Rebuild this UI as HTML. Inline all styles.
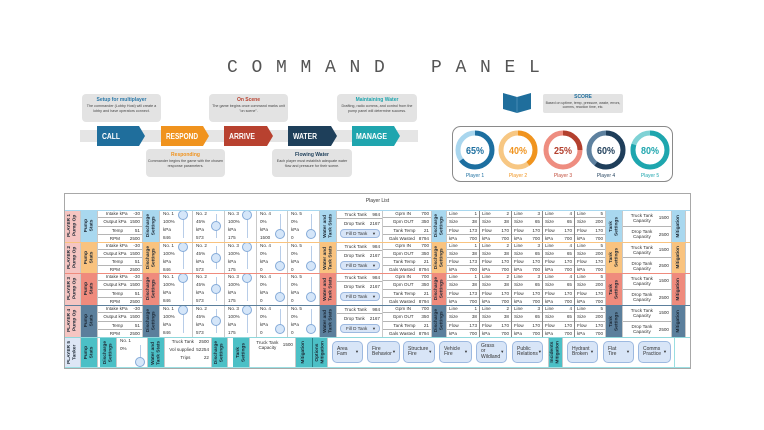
<!DOCTYPE html>
<html><head><meta charset="utf-8"><style>
*{margin:0;padding:0;box-sizing:border-box}
body{width:764px;height:430px;background:#fff;position:relative;overflow:hidden;font-family:"Liberation Sans",sans-serif;color:#333}
.a{position:absolute}
.co{position:absolute;background:#e3e3e3;border-radius:4px;text-align:center;font-size:3.7px;line-height:4.8px;color:#444;padding:3px 1px 0 1px}
.co b{display:block;font-size:5px;line-height:6px;margin-bottom:1px}
.row{position:absolute;left:0;width:764px}
.c{position:absolute;top:0;height:100%;border-right:1px solid #c9c9c9}
.vt{display:flex;align-items:center;justify-content:center}
.vt span{writing-mode:vertical-rl;transform:rotate(180deg);font-size:4.8px;font-weight:bold;line-height:5.5px;text-align:center;color:#1c2733;white-space:nowrap}
.t{display:flex;flex-direction:column}
.t>div{flex:1;display:flex;align-items:center;border-bottom:1px solid #b5b5b5;padding:0 2px;font-size:4.6px;line-height:5px;color:#333;white-space:nowrap}
.t>div:last-child{border-bottom:none}
.t b{flex:1;text-align:center;font-weight:normal}
.t i{font-style:normal;text-align:right}
.L b{text-align:left}
.no{font-size:4.6px;line-height:8px;padding-left:3px;color:#333}
.ln{position:absolute;width:1px;background:#b8cde8;top:4px;bottom:4px}
.kn{position:absolute;width:10px;height:10px;border-radius:50%;background:#d5e6f9;border:1px solid #84aad8}
.pill{position:absolute;background:#d8e5f7;border:1px solid #9db9e0;border-radius:4px;font-size:4.6px;line-height:5px;color:#333;display:flex;align-items:center;padding-left:5px;white-space:nowrap}
.pill .ar{margin-left:auto;padding-right:3px;font-size:4px}
.p5{border-radius:5px;font-size:5px;line-height:5.5px;padding-left:4px}
</style></head><body>

<svg class="a" style="left:0;top:0" width="764" height="430" viewBox="0 0 764 430">
<text x="227" y="72" font-family="Liberation Mono, monospace" font-size="18" letter-spacing="13.7" word-spacing="8" fill="#555">COMMAND PANEL</text>
<rect x="80" y="130" width="338" height="12" fill="#e5e5e5"/>
<polygon points="97,126 139,126 145,136 139,146 97,146" fill="#1f6e9c"/>
<polygon points="161,126 203,126 209,136 203,146 161,146" fill="#f0931e"/>
<polygon points="224,126 267,126 273,136 267,146 224,146" fill="#b8412f"/>
<polygon points="288,126 331,126 337,136 331,146 288,146" fill="#1e3f5a"/>
<polygon points="352,126 394,126 400,136 394,146 352,146" fill="#1fa5ae"/>
<g font-family="Liberation Sans, sans-serif" font-weight="bold" font-size="8" fill="#fff">
<text x="102" y="139" textLength="18" lengthAdjust="spacingAndGlyphs">CALL</text>
<text x="166" y="139" textLength="32" lengthAdjust="spacingAndGlyphs">RESPOND</text>
<text x="229" y="139" textLength="26" lengthAdjust="spacingAndGlyphs">ARRIVE</text>
<text x="293" y="139" textLength="24" lengthAdjust="spacingAndGlyphs">WATER</text>
<text x="356" y="139" textLength="31" lengthAdjust="spacingAndGlyphs">MANAGE</text>
</g>
<polygon points="503,93 517,97 531,93 531,109 517,113 503,109" fill="#1f6e9c"/>
<line x1="517" y1="97" x2="517" y2="113" stroke="#5f9cc4" stroke-width="0.6"/>
<rect x="452.5" y="126.5" width="220" height="55" rx="8" fill="#fff" stroke="#8a8a8a" stroke-width="1"/>
<g fill="none" stroke-width="5">
<circle cx="475" cy="150" r="17" stroke="#a9d6ee"/>
<circle cx="475" cy="150" r="17" stroke="#1d6fa0" stroke-dasharray="69.4 106.8" transform="rotate(-90 475 150)"/>
<circle cx="518" cy="150" r="17" stroke="#f7c783"/>
<circle cx="518" cy="150" r="17" stroke="#f0941f" stroke-dasharray="42.7 106.8" transform="rotate(-90 518 150)"/>
<circle cx="563" cy="150" r="17" stroke="#ee8d80"/>
<circle cx="563" cy="150" r="17" stroke="#b3402e" stroke-dasharray="26.7 106.8" transform="rotate(-90 563 150)"/>
<circle cx="606" cy="150" r="17" stroke="#5e819f"/>
<circle cx="606" cy="150" r="17" stroke="#1f3e5a" stroke-dasharray="64.1 106.8" transform="rotate(-90 606 150)"/>
<circle cx="650" cy="150" r="17" stroke="#7fd2d5"/>
<circle cx="650" cy="150" r="17" stroke="#1ea6ae" stroke-dasharray="85.5 106.8" transform="rotate(-90 650 150)"/>
</g>
<g font-family="Liberation Sans, sans-serif" font-weight="bold" font-size="10.5" text-anchor="middle">
<text x="475" y="154" fill="#1d6fa0" textLength="18" lengthAdjust="spacingAndGlyphs">65%</text>
<text x="518" y="154" fill="#f0941f" textLength="18" lengthAdjust="spacingAndGlyphs">40%</text>
<text x="563" y="154" fill="#b3402e" textLength="18" lengthAdjust="spacingAndGlyphs">25%</text>
<text x="606" y="154" fill="#1f3e5a" textLength="18" lengthAdjust="spacingAndGlyphs">60%</text>
<text x="650" y="154" fill="#1ea6ae" textLength="18" lengthAdjust="spacingAndGlyphs">80%</text>
</g>
<g font-family="Liberation Sans, sans-serif" font-size="5" text-anchor="middle">
<text x="475" y="177" fill="#1d6fa0">Player 1</text>
<text x="518" y="177" fill="#f0941f">Player 2</text>
<text x="563" y="177" fill="#c24d3b">Player 3</text>
<text x="606" y="177" fill="#1f3e5a">Player 4</text>
<text x="650" y="177" fill="#1ea6ae">Player 5</text>
</g>
</svg>

<div class="co" style="left:82px;top:94px;width:79px;height:28px"><b style="color:#2a78a8">Setup for multiplayer</b>The commander (Lobby Host) will create a lobby and have operators connect.</div>
<div class="co" style="left:209px;top:94px;width:79px;height:28px"><b style="color:#b8412f">On Scene</b>The game begins once command marks unit "on scene".</div>
<div class="co" style="left:337px;top:94px;width:80px;height:28px"><b style="color:#1fa5ae">Maintaining Water</b>Drafting, radio comms, and control from the pump panel will determine success.</div>
<div class="co" style="left:146px;top:149px;width:79px;height:28px"><b style="color:#f0931e">Responding</b>Commander begins the game with the chosen response parameters.</div>
<div class="co" style="left:272px;top:149px;width:80px;height:28px"><b style="color:#1e3f5a">Flowing Water</b>Each player must establish adequate water flow and pressure for their scene.</div>
<div class="co" style="left:543px;top:94px;width:80px;height:19px;border-radius:2px;padding-top:1px;font-size:3.5px;line-height:4.3px"><b style="color:#1f6e9c;line-height:5.5px;margin-bottom:0">SCORE</b>Based on uptime, temp, pressure, waste, errors, comms, reaction time, etc.</div>

<!-- table -->
<div class="a" style="left:64px;top:193px;width:627px;height:176px;border:1px solid #a8a8a8"></div>
<div class="a" style="left:65px;top:198px;width:625px;text-align:center;font-size:5px;color:#333">Player List</div>

<!-- P1 -->
<div class="row" style="top:210px;height:32px">
<div class="c vt" style="left:65px;width:16px;background:#f5c5c2"><span>PLAYER 1<br>Pump Op</span></div>
<div class="c vt" style="left:81px;width:17px;background:#a9d8ef"><span>Pump<br>Stats</span></div>
<div class="c t" style="left:98px;width:45px"><div><b>Intake kPa</b><i>-30</i></div><div><b>Output kPa</b><i>1500</i></div><div><b>Temp</b><i>51</i></div><div><b>RPM</b><i>2500</i></div></div>
<div class="c vt" style="left:143px;width:17px;background:#a9d8ef"><span>Discharge<br>Settings</span></div>
<div class="c no" style="left:160px;width:33px">No. 1<br>100%<br>kPa<br>846<div class="ln" style="left:23px"></div><div class="kn" style="left:18px;top:0"></div></div>
<div class="c no" style="left:193px;width:32px">No. 2<br>45%<br>kPa<br>573<div class="ln" style="left:23px"></div><div class="kn" style="left:18px;top:11px"></div></div>
<div class="c no" style="left:225px;width:32px">No. 3<br>100%<br>kPa<br>175<div class="ln" style="left:22px"></div><div class="kn" style="left:17px;top:0"></div></div>
<div class="c no" style="left:257px;width:31px">No. 4<br>0%<br>kPa<br>1500<div class="ln" style="left:23px"></div><div class="kn" style="left:18px;top:19px"></div></div>
<div class="c no" style="left:288px;width:32px">No. 5<br>0%<br>kPa<br>0<div class="ln" style="left:23px"></div><div class="kn" style="left:18px;top:19px"></div></div>
<div class="c vt" style="left:320px;width:17px;background:#a9d8ef"><span>Water and<br>Tank Stats</span></div>
<div class="c" style="left:337px;width:46px"><div class="t" style="position:absolute;left:0;top:0;width:100%;height:17px"><div style="border-bottom:1px solid #b5b5b5"><b>Truck Tank</b><i>984</i></div><div><b>Drop Tank</b><i>2167</i></div></div><div class="pill" style="left:3px;top:19px;width:40px;height:9px">Fill D Tank<span class="ar">▼</span></div></div>
<div class="c t" style="left:383px;width:49px"><div><b>Gpm IN</b><i>700</i></div><div><b>Gpm OUT</b><i>350</i></div><div><b>Tank Temp</b><i>21</i></div><div><b>Gals Wasted</b><i>8794</i></div></div>
<div class="c vt" style="left:432px;width:15px;background:#a9d8ef"><span>Discharge<br>Settings</span></div>
<div class="c t L" style="left:447px;width:33px;border-right-color:#888"><div><b>Line</b><i>1</i></div><div><b>Size</b><i>38</i></div><div><b>Flow</b><i>173</i></div><div><b>kPa</b><i>700</i></div></div>
<div class="c t L" style="left:480px;width:32px;border-right-color:#888"><div><b>Line</b><i>2</i></div><div><b>Size</b><i>38</i></div><div><b>Flow</b><i>170</i></div><div><b>kPa</b><i>700</i></div></div>
<div class="c t L" style="left:512px;width:31px;border-right-color:#888"><div><b>Line</b><i>3</i></div><div><b>Size</b><i>65</i></div><div><b>Flow</b><i>170</i></div><div><b>kPa</b><i>700</i></div></div>
<div class="c t L" style="left:543px;width:32px;border-right-color:#888"><div><b>Line</b><i>4</i></div><div><b>Size</b><i>65</i></div><div><b>Flow</b><i>170</i></div><div><b>kPa</b><i>700</i></div></div>
<div class="c t L" style="left:575px;width:31px"><div><b>Line</b><i>5</i></div><div><b>Size</b><i>200</i></div><div><b>Flow</b><i>170</i></div><div><b>kPa</b><i>700</i></div></div>
<div class="c vt" style="left:606px;width:17px;background:#a9d8ef"><span>Tank<br>Settings</span></div>
<div class="c t" style="left:623px;width:49px"><div><b>Truck Tank<br>Capacity</b><i>1500</i></div><div><b>Drop Tank<br>Capacity</b><i>2500</i></div></div>
<div class="c vt" style="left:672px;width:14px;background:#a9d8ef"><span>Mitigation</span></div>
</div>

<!-- P2 -->
<div class="row" style="top:242px;height:31px">
<div class="c vt" style="left:65px;width:16px;background:#f5c5c2"><span>PLAYER 2<br>Pump Op</span></div>
<div class="c vt" style="left:81px;width:17px;background:#f9c37f"><span>Pump<br>Stats</span></div>
<div class="c t" style="left:98px;width:45px"><div><b>Intake kPa</b><i>-30</i></div><div><b>Output kPa</b><i>1500</i></div><div><b>Temp</b><i>51</i></div><div><b>RPM</b><i>2500</i></div></div>
<div class="c vt" style="left:143px;width:17px;background:#f9c37f"><span>Discharge<br>Settings</span></div>
<div class="c no" style="left:160px;width:33px">No. 1<br>100%<br>kPa<br>846<div class="ln" style="left:23px"></div><div class="kn" style="left:18px;top:0"></div></div>
<div class="c no" style="left:193px;width:32px">No. 2<br>45%<br>kPa<br>573<div class="ln" style="left:23px"></div><div class="kn" style="left:18px;top:11px"></div></div>
<div class="c no" style="left:225px;width:32px">No. 3<br>100%<br>kPa<br>175<div class="ln" style="left:22px"></div><div class="kn" style="left:17px;top:0"></div></div>
<div class="c no" style="left:257px;width:31px">No. 4<br>0%<br>kPa<br>0<div class="ln" style="left:23px"></div><div class="kn" style="left:18px;top:19px"></div></div>
<div class="c no" style="left:288px;width:32px">No. 5<br>0%<br>kPa<br>0<div class="ln" style="left:23px"></div><div class="kn" style="left:18px;top:19px"></div></div>
<div class="c vt" style="left:320px;width:17px;background:#f9c37f"><span>Water and<br>Tank Stats</span></div>
<div class="c" style="left:337px;width:46px"><div class="t" style="position:absolute;left:0;top:0;width:100%;height:17px"><div style="border-bottom:1px solid #b5b5b5"><b>Truck Tank</b><i>984</i></div><div><b>Drop Tank</b><i>2167</i></div></div><div class="pill" style="left:3px;top:19px;width:40px;height:9px">Fill D Tank<span class="ar">▼</span></div></div>
<div class="c t" style="left:383px;width:49px"><div><b>Gpm IN</b><i>700</i></div><div><b>Gpm OUT</b><i>350</i></div><div><b>Tank Temp</b><i>21</i></div><div><b>Gals Wasted</b><i>8794</i></div></div>
<div class="c vt" style="left:432px;width:15px;background:#f9c37f"><span>Discharge<br>Settings</span></div>
<div class="c t L" style="left:447px;width:33px;border-right-color:#888"><div><b>Line</b><i>1</i></div><div><b>Size</b><i>38</i></div><div><b>Flow</b><i>173</i></div><div><b>kPa</b><i>700</i></div></div>
<div class="c t L" style="left:480px;width:32px;border-right-color:#888"><div><b>Line</b><i>2</i></div><div><b>Size</b><i>38</i></div><div><b>Flow</b><i>170</i></div><div><b>kPa</b><i>700</i></div></div>
<div class="c t L" style="left:512px;width:31px;border-right-color:#888"><div><b>Line</b><i>3</i></div><div><b>Size</b><i>65</i></div><div><b>Flow</b><i>170</i></div><div><b>kPa</b><i>700</i></div></div>
<div class="c t L" style="left:543px;width:32px;border-right-color:#888"><div><b>Line</b><i>4</i></div><div><b>Size</b><i>65</i></div><div><b>Flow</b><i>170</i></div><div><b>kPa</b><i>700</i></div></div>
<div class="c t L" style="left:575px;width:31px"><div><b>Line</b><i>5</i></div><div><b>Size</b><i>200</i></div><div><b>Flow</b><i>170</i></div><div><b>kPa</b><i>700</i></div></div>
<div class="c vt" style="left:606px;width:17px;background:#f9c37f"><span>Tank<br>Settings</span></div>
<div class="c t" style="left:623px;width:49px"><div><b>Truck Tank<br>Capacity</b><i>1500</i></div><div><b>Drop Tank<br>Capacity</b><i>2500</i></div></div>
<div class="c vt" style="left:672px;width:14px;background:#f9c37f"><span>Mitigation</span></div>
</div>

<!-- P3 -->
<div class="row" style="top:273px;height:32px">
<div class="c vt" style="left:65px;width:16px;background:#f5c5c2"><span>PLAYER 3<br>Pump Op</span></div>
<div class="c vt" style="left:81px;width:17px;background:#ef8b7d"><span>Pump<br>Stats</span></div>
<div class="c t" style="left:98px;width:45px"><div><b>Intake kPa</b><i>-30</i></div><div><b>Output kPa</b><i>1500</i></div><div><b>Temp</b><i>51</i></div><div><b>RPM</b><i>2500</i></div></div>
<div class="c vt" style="left:143px;width:17px;background:#ef8b7d"><span>Discharge<br>Settings</span></div>
<div class="c no" style="left:160px;width:33px">No. 1<br>100%<br>kPa<br>846<div class="ln" style="left:23px"></div><div class="kn" style="left:18px;top:0"></div></div>
<div class="c no" style="left:193px;width:32px">No. 2<br>45%<br>kPa<br>573<div class="ln" style="left:23px"></div><div class="kn" style="left:18px;top:11px"></div></div>
<div class="c no" style="left:225px;width:32px">No. 3<br>100%<br>kPa<br>175<div class="ln" style="left:22px"></div><div class="kn" style="left:17px;top:0"></div></div>
<div class="c no" style="left:257px;width:31px">No. 4<br>0%<br>kPa<br>0<div class="ln" style="left:23px"></div><div class="kn" style="left:18px;top:19px"></div></div>
<div class="c no" style="left:288px;width:32px">No. 5<br>0%<br>kPa<br>0<div class="ln" style="left:23px"></div><div class="kn" style="left:18px;top:19px"></div></div>
<div class="c vt" style="left:320px;width:17px;background:#ef8b7d"><span>Water and<br>Tank Stats</span></div>
<div class="c" style="left:337px;width:46px"><div class="t" style="position:absolute;left:0;top:0;width:100%;height:17px"><div style="border-bottom:1px solid #b5b5b5"><b>Truck Tank</b><i>984</i></div><div><b>Drop Tank</b><i>2167</i></div></div><div class="pill" style="left:3px;top:19px;width:40px;height:9px">Fill D Tank<span class="ar">▼</span></div></div>
<div class="c t" style="left:383px;width:49px"><div><b>Gpm IN</b><i>700</i></div><div><b>Gpm OUT</b><i>350</i></div><div><b>Tank Temp</b><i>21</i></div><div><b>Gals Wasted</b><i>8794</i></div></div>
<div class="c vt" style="left:432px;width:15px;background:#ef8b7d"><span>Discharge<br>Settings</span></div>
<div class="c t L" style="left:447px;width:33px;border-right-color:#888"><div><b>Line</b><i>1</i></div><div><b>Size</b><i>38</i></div><div><b>Flow</b><i>173</i></div><div><b>kPa</b><i>700</i></div></div>
<div class="c t L" style="left:480px;width:32px;border-right-color:#888"><div><b>Line</b><i>2</i></div><div><b>Size</b><i>38</i></div><div><b>Flow</b><i>170</i></div><div><b>kPa</b><i>700</i></div></div>
<div class="c t L" style="left:512px;width:31px;border-right-color:#888"><div><b>Line</b><i>3</i></div><div><b>Size</b><i>65</i></div><div><b>Flow</b><i>170</i></div><div><b>kPa</b><i>700</i></div></div>
<div class="c t L" style="left:543px;width:32px;border-right-color:#888"><div><b>Line</b><i>4</i></div><div><b>Size</b><i>65</i></div><div><b>Flow</b><i>170</i></div><div><b>kPa</b><i>700</i></div></div>
<div class="c t L" style="left:575px;width:31px"><div><b>Line</b><i>5</i></div><div><b>Size</b><i>200</i></div><div><b>Flow</b><i>170</i></div><div><b>kPa</b><i>700</i></div></div>
<div class="c vt" style="left:606px;width:17px;background:#ef8b7d"><span>Tank<br>Settings</span></div>
<div class="c t" style="left:623px;width:49px"><div><b>Truck Tank<br>Capacity</b><i>1500</i></div><div><b>Drop Tank<br>Capacity</b><i>2500</i></div></div>
<div class="c vt" style="left:672px;width:14px;background:#ef8b7d"><span>Mitigation</span></div>
</div>

<!-- P4 -->
<div class="row" style="top:305px;height:32px">
<div class="c vt" style="left:65px;width:16px;background:#f5c5c2"><span>PLAYER 4<br>Pump Op</span></div>
<div class="c vt" style="left:81px;width:17px;background:#5b7f9c"><span>Pump<br>Stats</span></div>
<div class="c t" style="left:98px;width:45px"><div><b>Intake kPa</b><i>-30</i></div><div><b>Output kPa</b><i>1500</i></div><div><b>Temp</b><i>51</i></div><div><b>RPM</b><i>2500</i></div></div>
<div class="c vt" style="left:143px;width:17px;background:#5b7f9c"><span>Discharge<br>Settings</span></div>
<div class="c no" style="left:160px;width:33px">No. 1<br>100%<br>kPa<br>846<div class="ln" style="left:23px"></div><div class="kn" style="left:18px;top:0"></div></div>
<div class="c no" style="left:193px;width:32px">No. 2<br>45%<br>kPa<br>573<div class="ln" style="left:23px"></div><div class="kn" style="left:18px;top:11px"></div></div>
<div class="c no" style="left:225px;width:32px">No. 3<br>100%<br>kPa<br>175<div class="ln" style="left:22px"></div><div class="kn" style="left:17px;top:0"></div></div>
<div class="c no" style="left:257px;width:31px">No. 4<br>0%<br>kPa<br>0<div class="ln" style="left:23px"></div><div class="kn" style="left:18px;top:19px"></div></div>
<div class="c no" style="left:288px;width:32px">No. 5<br>0%<br>kPa<br>0<div class="ln" style="left:23px"></div><div class="kn" style="left:18px;top:19px"></div></div>
<div class="c vt" style="left:320px;width:17px;background:#5b7f9c"><span>Water and<br>Tank Stats</span></div>
<div class="c" style="left:337px;width:46px"><div class="t" style="position:absolute;left:0;top:0;width:100%;height:17px"><div style="border-bottom:1px solid #b5b5b5"><b>Truck Tank</b><i>984</i></div><div><b>Drop Tank</b><i>2167</i></div></div><div class="pill" style="left:3px;top:19px;width:40px;height:9px">Fill D Tank<span class="ar">▼</span></div></div>
<div class="c t" style="left:383px;width:49px"><div><b>Gpm IN</b><i>700</i></div><div><b>Gpm OUT</b><i>350</i></div><div><b>Tank Temp</b><i>21</i></div><div><b>Gals Wasted</b><i>8794</i></div></div>
<div class="c vt" style="left:432px;width:15px;background:#5b7f9c"><span>Discharge<br>Settings</span></div>
<div class="c t L" style="left:447px;width:33px;border-right-color:#888"><div><b>Line</b><i>1</i></div><div><b>Size</b><i>38</i></div><div><b>Flow</b><i>173</i></div><div><b>kPa</b><i>700</i></div></div>
<div class="c t L" style="left:480px;width:32px;border-right-color:#888"><div><b>Line</b><i>2</i></div><div><b>Size</b><i>38</i></div><div><b>Flow</b><i>170</i></div><div><b>kPa</b><i>700</i></div></div>
<div class="c t L" style="left:512px;width:31px;border-right-color:#888"><div><b>Line</b><i>3</i></div><div><b>Size</b><i>65</i></div><div><b>Flow</b><i>170</i></div><div><b>kPa</b><i>700</i></div></div>
<div class="c t L" style="left:543px;width:32px;border-right-color:#888"><div><b>Line</b><i>4</i></div><div><b>Size</b><i>65</i></div><div><b>Flow</b><i>170</i></div><div><b>kPa</b><i>700</i></div></div>
<div class="c t L" style="left:575px;width:31px"><div><b>Line</b><i>5</i></div><div><b>Size</b><i>200</i></div><div><b>Flow</b><i>170</i></div><div><b>kPa</b><i>700</i></div></div>
<div class="c vt" style="left:606px;width:17px;background:#5b7f9c"><span>Tank<br>Settings</span></div>
<div class="c t" style="left:623px;width:49px"><div><b>Truck Tank<br>Capacity</b><i>1500</i></div><div><b>Drop Tank<br>Capacity</b><i>2500</i></div></div>
<div class="c vt" style="left:672px;width:14px;background:#5b7f9c"><span>Mitigation</span></div>
</div>

<!-- P5 -->
<div class="row" style="top:337px;height:31px">
<div class="c vt" style="left:65px;width:16px;background:#dde6f5"><span>PLAYER 5<br>Tanker</span></div>
<div class="c vt" style="left:81px;width:17px;background:#4cc0c6"><span>Pump<br>Stats</span></div>
<div class="c vt" style="left:100px;width:17px;background:#4cc0c6"><span>Discharge<br>Settings</span></div>
<div class="c no" style="left:117px;width:31px">No. 1<br>0%<div class="ln" style="left:23px;top:8px"></div><div class="kn" style="left:18px;top:20px"></div></div>
<div class="c vt" style="left:148px;width:17px;background:#4cc0c6"><span>Water and<br>Tank Stats</span></div>
<div class="c" style="left:165px;width:47px"><div class="t" style="position:absolute;left:0;top:0;width:100%;height:24px"><div style="border:none"><b>Truck Tank</b><i>2500</i></div><div style="border:none"><b>Vol supplied</b><i>52254</i></div><div style="border:none"><b>Trips</b><i>22</i></div></div></div>
<div class="c vt" style="left:212px;width:16px;background:#4cc0c6"><span>Discharge<br>Settings</span></div>
<div class="c vt" style="left:233px;width:17px;background:#4cc0c6"><span>Tank<br>Settings</span></div>
<div class="c" style="left:250px;width:46px"><div class="t" style="position:absolute;left:0;top:2px;width:100%;height:11px"><div style="border:none"><b>Truck Tank<br>Capacity</b><i>1500</i></div></div></div>
<div class="c vt" style="left:296px;width:17px;background:#4cc0c6;border-right-color:#2a7f85"><span>Mitigation</span></div>
<div class="c vt" style="left:313px;width:15px;background:#4cc0c6"><span>Options<br>Mitigation</span></div>
<div class="pill p5" style="left:332px;top:4px;width:31px;height:22px">Area<br>Fam<span class="ar">▼</span></div>
<div class="pill p5" style="left:367px;top:4px;width:33px;height:22px">Fire<br>Behavior<span class="ar">▼</span></div>
<div class="pill p5" style="left:403px;top:4px;width:32px;height:22px">Structure<br>Fire<span class="ar">▼</span></div>
<div class="pill p5" style="left:439px;top:4px;width:33px;height:22px">Vehicle<br>Fire<span class="ar">▼</span></div>
<div class="pill p5" style="left:476px;top:4px;width:31px;height:22px">Grass<br>or<br>Wildland<span class="ar">▼</span></div>
<div class="pill p5" style="left:512px;top:4px;width:31px;height:22px">Public<br>Relations<span class="ar">▼</span></div>
<div class="c vt" style="left:548px;width:15px;background:#4cc0c6;border-left:1px solid #c9c9c9"><span>Incidents<br>Mitigation</span></div>
<div class="pill p5" style="left:567px;top:4px;width:31px;height:22px">Hydrant<br>Broken<span class="ar">▼</span></div>
<div class="pill p5" style="left:603px;top:4px;width:31px;height:22px">Flat<br>Tire<span class="ar">▼</span></div>
<div class="pill p5" style="left:638px;top:4px;width:33px;height:22px">Comms<br>Practice<span class="ar">▼</span></div>
<div class="c" style="left:674px;width:16px;border-left:1px solid #9adfe2;border-right:none"></div>
</div>

<!-- row separator lines -->
<div class="a" style="left:65px;top:210px;width:625px;height:1px;background:#a9d8ef"></div>
<div class="a" style="left:65px;top:242px;width:625px;height:1px;background:#f9c37f"></div>
<div class="a" style="left:65px;top:273px;width:625px;height:1px;background:#ef8b7d"></div>
<div class="a" style="left:65px;top:305px;width:625px;height:1px;background:#5b7f9c"></div>
<div class="a" style="left:65px;top:337px;width:625px;height:1px;background:#8fd8dc"></div>
<div class="a" style="left:65px;top:367px;width:625px;height:1px;background:#9adfe2"></div>
</body></html>
